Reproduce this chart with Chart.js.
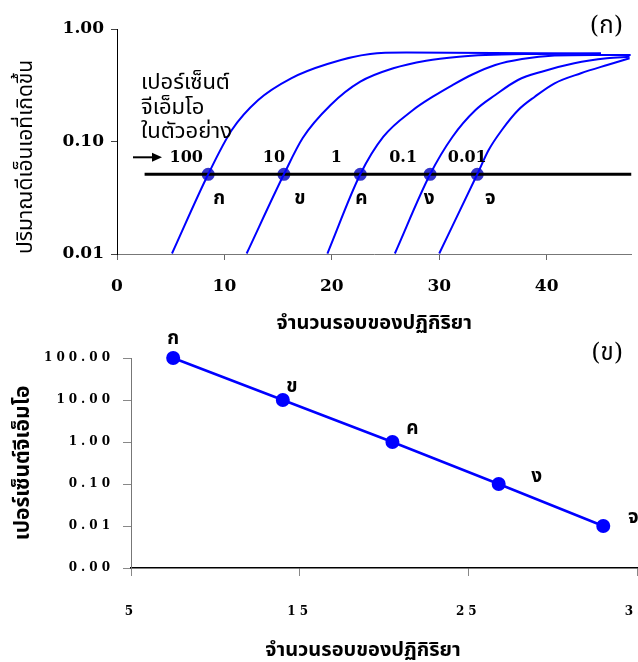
<!DOCTYPE html>
<html>
<head>
<meta charset="utf-8">
<script src="https://cdn.jsdelivr.net/npm/chart.js@4.4.0/dist/chart.umd.min.js"></script>
<style>
html, body { margin: 0; padding: 0; background: #fff; overflow: hidden; width: 638px; height: 662px; }
#top { position: absolute; left: 0; top: 0; width: 638px; height: 340px; }
#bot { position: absolute; left: 0; top: 326px; width: 660px; height: 336px; }
</style>
</head>
<body>
<div id="top"><canvas id="chartA"></canvas></div>
<div id="bot"><canvas id="chartB"></canvas></div>
<script>
// (ก) amplification curves, one per GMO percentage
const c100X = [5.12, 8.49, 10.69, 13.15, 16.21, 19.59, 23.57, 26.94, 45.06];
const c100Y = [0.0101, 0.0511, 0.1265, 0.2338, 0.3645, 0.4886, 0.5995, 0.6168, 0.6057];
const c10X = [12.07, 15.54, 17.29, 19.89, 22.65, 25.72, 28.78, 31.84, 34.30, 38.90, 45.06];
const c10Y = [0.0101, 0.0511, 0.1074, 0.2111, 0.3401, 0.4474, 0.5226, 0.5674, 0.5874, 0.5995, 0.6057];
const c1X = [19.59, 22.65, 24.80, 27.56, 29.40, 31.24, 33.08, 35.22, 37.70, 40.74, 44.41, 47.82];
const c1Y = [0.0101, 0.0511, 0.1103, 0.1905, 0.2502, 0.3178, 0.3942, 0.4786, 0.5411, 0.5813, 0.5874, 0.5874];
const c01X = [25.87, 29.15, 31.24, 33.38, 35.22, 37.33, 39.54, 42.57, 45.61, 47.72];
const c01Y = [0.0101, 0.0511, 0.1103, 0.1905, 0.2590, 0.3522, 0.4173, 0.4956, 0.5490, 0.5674];
const c001X = [30.00, 33.54, 34.60, 35.83, 37.36, 38.90, 40.74, 43.19, 45.64, 47.72];
const c001Y = [0.0101, 0.0511, 0.0840, 0.1265, 0.1905, 0.2502, 0.3292, 0.4040, 0.4786, 0.5490];

const threshold = 0.0511;
const thresholdX = [2.57, 47.9];
const ctCycles = [8.49, 15.54, 22.65, 29.15, 33.54];
const gmoLabels = ['100', '10', '1', '0.1', '0.01'];
const sampleLetters = ['ก', 'ข', 'ค', 'ง', 'จ'];
const topXTicks = [0, 10, 20, 30, 40];
const topYTicks = [0.01, 0.1, 1];

// (ข) standard curve
const stdCycles = [7.5, 14.0, 20.5, 26.8, 33.0];
const stdPercent = [100, 10, 1, 0.1, 0.01];
const botXTicks = [5, 15, 25, 35];
const botYTicks = [0.001, 0.01, 0.1, 1, 10, 100];

// label offsets in pixels
const numDx = [-22, -10, -24, -27, -10];
const letterDx = [11, 16, 1, -1, 13];
const stdDx = [0, 9, 20, 38, 30];
const stdDy = [-18, -12, -12, -6, -7];

const thai = '"Noto Sans Thai", "Noto Sans Thai UI", Tahoma, "DejaVu Sans", sans-serif';
const serif = '"DejaVu Serif", "Liberation Serif", serif';

function pts(xs, ys) { return xs.map((x, i) => ({ x: x, y: ys[i] })); }

function curve(xs, ys) {
  return {
    data: pts(xs, ys), showLine: true, borderColor: 'rgb(0,0,255)', borderWidth: 2,
    pointRadius: 0, cubicInterpolationMode: 'monotone', clip: false
  };
}

const topNotes = {
  id: 'topNotes',
  afterDatasetsDraw(chart) {
    const { ctx, scales: { x, y }, chartArea } = chart;
    const ty = y.getPixelForValue(threshold);
    ctx.save();
    ctx.fillStyle = '#000';
    ctx.textAlign = 'center';
    ctx.textBaseline = 'middle';
    ctx.font = 'bold 16px ' + serif;
    ctCycles.forEach((c, i) => ctx.fillText(gmoLabels[i], x.getPixelForValue(c) + numDx[i], ty - 16));
    ctx.font = 'bold 19px ' + thai;
    ctCycles.forEach((c, i) => ctx.fillText(sampleLetters[i], x.getPixelForValue(c) + letterDx[i], ty + 26));
    ctx.textAlign = 'left';
    ctx.font = '22px ' + thai;
    ['เปอร์เซ็นต์', 'จีเอ็มโอ', 'ในตัวอย่าง'].forEach((t, i) =>
      ctx.fillText(t, chartArea.left + 24, chartArea.top + 56 + i * 24.5));
    // arrow
    const ax = chartArea.left + 16, ay = ty - 17;
    ctx.strokeStyle = '#000';
    ctx.lineWidth = 2;
    ctx.beginPath(); ctx.moveTo(ax, ay); ctx.lineTo(ax + 21, ay); ctx.stroke();
    ctx.beginPath(); ctx.moveTo(ax + 19, ay - 4.5); ctx.lineTo(ax + 29, ay); ctx.lineTo(ax + 19, ay + 4.5); ctx.closePath(); ctx.fill();
    ctx.textAlign = 'right';
    ctx.font = '24px ' + serif + ', ' + thai;
    ctx.fillText('(ก)', 623, 27);
    ctx.restore();
  }
};

new Chart(document.getElementById('chartA'), {
  type: 'scatter',
  data: {
    datasets: [
      curve(c100X, c100Y), curve(c10X, c10Y), curve(c1X, c1Y), curve(c01X, c01Y), curve(c001X, c001Y),
      {
        data: thresholdX.map(v => ({ x: v, y: threshold })), showLine: true,
        borderColor: '#000', borderWidth: 3, pointRadius: 0
      },
      {
        data: ctCycles.map(v => ({ x: v, y: threshold })), pointRadius: 6.5,
        pointBackgroundColor: 'rgb(51,51,204)', pointBorderWidth: 0
      }
    ]
  },
  options: {
    responsive: true, maintainAspectRatio: false, animation: false,
    layout: { padding: { top: 29, right: 0, left: 0, bottom: 0 } },
    plugins: { legend: { display: false }, tooltip: { enabled: false } },
    scales: {
      x: {
        type: 'linear', min: 0, max: 47.9,
        afterBuildTicks: s => { s.ticks = topXTicks.map(v => ({ value: v })); },
        afterFit: s => { s.height = 86; },
        grid: { drawOnChartArea: false, tickLength: 6, color: '#666' },
        border: { color: '#777', width: 1 },
        ticks: {
          padding: 0, color: '#000', maxRotation: 0, callback: v => String(v),
          font: { family: serif, size: 17, weight: 'bold', lineHeight: 3.1 }
        },
        title: {
          display: true, text: 'จำนวนรอบของปฏิกิริยา', color: '#000',
          font: { family: thai, size: 20, weight: 'bold' }, padding: { top: 0, bottom: 3 }
        }
      },
      y: {
        type: 'logarithmic', min: 0.01, max: 1,
        afterBuildTicks: s => { s.ticks = topYTicks.map(v => ({ value: v })); },
        afterFit: s => { s.width = 117; },
        grid: { drawOnChartArea: false, tickLength: 6, color: '#444' },
        border: { color: '#000', width: 1 },
        ticks: {
          padding: 7, color: '#000', callback: v => Number(v).toFixed(2),
          font: { family: serif, size: 17, weight: 'bold' }
        },
        title: {
          display: true, align: 'start', text: 'ปริมาณดีเอ็นเอที่เกิดขึ้น', color: '#000',
          font: { family: thai, size: 21 }, padding: { top: 15, bottom: 0 }
        }
      }
    }
  },
  plugins: [topNotes]
});

const botNotes = {
  id: 'botNotes',
  beforeDraw(chart) {
    Object.values(chart.scales).forEach(s => {
      if (s._spaced) return;
      const orig = s.drawLabels;
      s.drawLabels = function (area) {
        this.ctx.save();
        this.ctx.letterSpacing = '4px';
        orig.call(this, area);
        this.ctx.restore();
      };
      s._spaced = true;
    });
  },
  afterDatasetsDraw(chart) {
    const { ctx, scales: { x, y }, chartArea } = chart;
    ctx.save();
    ctx.fillStyle = '#000';
    ctx.textAlign = 'center';
    ctx.textBaseline = 'middle';
    ctx.font = 'bold 19px ' + thai;
    stdCycles.forEach((c, i) =>
      ctx.fillText(sampleLetters[i], x.getPixelForValue(c) + stdDx[i], y.getPixelForValue(stdPercent[i]) + stdDy[i]));
    ctx.font = 'bold 20px ' + thai;
    ctx.fillText('จำนวนรอบของปฏิกิริยา', chartArea.left + 232, chartArea.bottom + 84);
    ctx.textAlign = 'right';
    ctx.font = '24px ' + serif + ', ' + thai;
    ctx.fillText('(ข)', 623, 28);
    ctx.restore();
  }
};

new Chart(document.getElementById('chartB'), {
  type: 'scatter',
  data: {
    datasets: [{
      data: pts(stdCycles, stdPercent), showLine: true, borderColor: 'rgb(0,0,255)', borderWidth: 2.5,
      pointRadius: 7, pointBackgroundColor: 'rgb(0,0,255)', pointBorderWidth: 0, clip: false
    }]
  },
  options: {
    responsive: true, maintainAspectRatio: false, animation: false,
    layout: { padding: { top: 32, right: 23, left: 0, bottom: 0 } },
    plugins: { legend: { display: false }, tooltip: { enabled: false } },
    scales: {
      x: {
        type: 'linear', min: 5, max: 35,
        afterBuildTicks: s => { s.ticks = botXTicks.map(v => ({ value: v })); },
        afterFit: s => { s.height = 94; },
        grid: { drawOnChartArea: false, tickLength: 8, color: '#888' },
        border: { color: '#000', width: 1.5 },
        ticks: {
          padding: 0, color: '#000', maxRotation: 0, callback: v => String(v),
          font: { family: serif, size: 12, weight: 'bold', lineHeight: 5.9 }
        }
      },
      y: {
        type: 'logarithmic', min: 0.001, max: 100,
        afterBuildTicks: s => { s.ticks = botYTicks.map(v => ({ value: v })); },
        afterFit: s => { s.width = 131; },
        grid: { drawOnChartArea: false, tickLength: 8, color: '#888' },
        border: { color: '#777', width: 1 },
        ticks: {
          padding: 9, color: '#000', callback: v => Number(v).toFixed(2),
          font: { family: serif, size: 12, weight: 'bold' }
        },
        title: {
          display: true, text: 'เปอร์เซ็นต์จีเอ็มโอ', color: '#000',
          font: { family: thai, size: 21, weight: 'bold' }, padding: { top: 12, bottom: 0 }
        }
      }
    }
  },
  plugins: [botNotes]
});
</script>
</body>
</html>
